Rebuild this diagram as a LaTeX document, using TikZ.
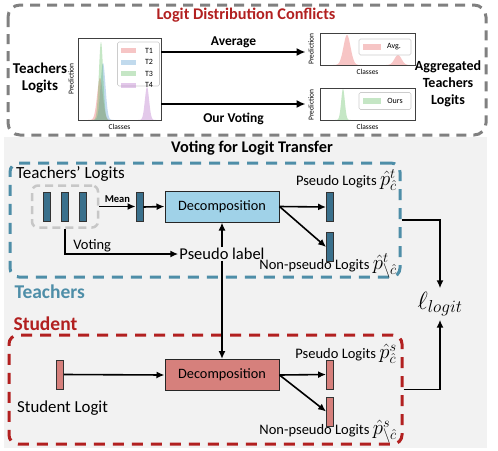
\documentclass[tikz,border=0pt]{standalone}
\usepackage{fontspec}
\setmainfont{Carlito}
\usetikzlibrary{arrows.meta,positioning}

\definecolor{dashgray}{RGB}{128,128,128}
\definecolor{darkred}{RGB}{178,32,32}
\definecolor{tblue}{RGB}{78,142,168}
\definecolor{tbar}{RGB}{58,112,140}
\definecolor{tdecfill}{RGB}{160,210,232}
\definecolor{sfill}{RGB}{214,128,124}
\definecolor{bggray}{RGB}{242,242,242}
\definecolor{cone}{RGB}{232,90,90}
\definecolor{ctwo}{RGB}{80,150,205}
\definecolor{cthree}{RGB}{90,185,90}
\definecolor{cfour}{RGB}{175,100,195}

\begin{document}
\begin{tikzpicture}[x=1pt, y=-1pt,
    arr/.style = {line width=1.6pt, -{Latex[length=8pt,width=7pt]}},
    bigarr/.style = {line width=2pt, -{Latex[length=9pt,width=8pt]}},
    plotbox/.style = {draw=black!75, line width=0.8pt, inner sep=0pt},
    legbox/.style = {draw=black!20, line width=0.6pt, fill=white, rounded corners=1.5pt, inner sep=0pt},
    axlbl/.style = {font=\fontsize{7.5}{8}\selectfont, inner sep=0pt},
    leglbl/.style = {font=\fontsize{8}{9}\selectfont, inner sep=0pt},
    lbl/.style = {font=\fontsize{14.5}{16}\selectfont, inner sep=1pt},
    head/.style = {font=\fontsize{13.5}{17}\selectfont\bfseries},
    grayd/.style = {draw=dashgray, line width=3pt, dash pattern=on 10pt off 7pt, rounded corners=12pt},
    tdash/.style = {draw=tblue, line width=3pt, dash pattern=on 11pt off 8pt, rounded corners=9pt, inner sep=0pt},
    sdash/.style = {draw=darkred, line width=3pt, dash pattern=on 11pt off 8pt, rounded corners=9pt, inner sep=0pt},
    grpbox/.style = {draw=black!22, line width=2.5pt, dash pattern=on 8pt off 5pt, rounded corners=6pt, inner sep=0pt},
    tbarnode/.style = {draw=black!80, fill=tbar, line width=0.8pt, minimum width=7pt, minimum height=29pt, inner sep=0pt},
    sbarnode/.style = {draw=black!80, fill=sfill, line width=0.8pt, minimum width=7pt, minimum height=29pt, inner sep=0pt},
    decomp/.style = {draw=black!85, line width=1pt, minimum width=114pt, minimum height=31pt, font=\fontsize{14.3}{16}\selectfont},
  ]
\useasboundingbox (0,0) rectangle (498,450);

% upper panel
\draw[grayd] (8,5) rectangle (486,135);
\node[head, text=darkred, font=\fontsize{16.3}{18}\selectfont\bfseries] at (246,15) {Logit Distribution Conflicts};
\node[head, align=center, font=\fontsize{15}{17}\selectfont\bfseries] at (40,78) {Teachers\\Logits};
\node[head, align=center, font=\fontsize{14}{17}\selectfont\bfseries] at (448,84) {Aggregated\\Teachers\\Logits};

\node[plotbox, minimum width=83pt, minimum height=82pt] (tplot) at (119.5,79) {};
\node[plotbox, minimum width=95pt, minimum height=32pt] (avgplot) at (367.5,49) {};
\node[plotbox, minimum width=95pt, minimum height=32pt] (ourplot) at (367.5,104) {};

\fill[cone, fill opacity=0.35] plot[domain=88:112, samples=60, smooth] (\x, {120-42*exp(-((\x-100)/4)^2)}) -- cycle;
\fill[ctwo, fill opacity=0.35] plot[domain=92:114, samples=60, smooth] (\x, {120-57*exp(-((\x-103)/3.5)^2)}) -- cycle;
\fill[cthree, fill opacity=0.35] plot[domain=91:111, samples=60, smooth] (\x, {120-78*exp(-((\x-101)/3)^2)}) -- cycle;
\fill[cfour, fill opacity=0.35] plot[domain=138:156, samples=60, smooth] (\x, {120-33*exp(-((\x-147)/3)^2)}) -- cycle;
\node[legbox, minimum width=42pt, minimum height=44pt] (tleg) at (138.5,64) {};
\foreach \c/\t [count=\i] in {cone/T1, ctwo/T2, cthree/T3, cfour/T4} {
  \fill[\c, fill opacity=0.35] (121,{36.5+11.5*\i}) rectangle (136,{41.5+11.5*\i});
  \node[leglbl] at (149,{39+11.5*\i}) {\t};
}
\node[axlbl, rotate=90] at (71,79) {Prediction};
\node[axlbl] at (119.5,126.5) {Classes};

\fill[cone, fill opacity=0.35] plot[domain=333:361, samples=60, smooth] (\x, {65-30*exp(-((\x-347)/5)^2)}) -- cycle;
\fill[cone, fill opacity=0.35] plot[domain=386:410, samples=60, smooth] (\x, {65-10*exp(-((\x-398)/5)^2)}) -- cycle;
\node[legbox, minimum width=52pt, minimum height=16pt] (avgleg) at (385,47) {};
\fill[cone, fill opacity=0.35] (363,44) rectangle (381,50);
\node[leglbl] at (394,47) {Avg.};
\node[axlbl, rotate=90] at (311,49) {Prediction};
\node[axlbl] at (367.5,72) {Classes};

\fill[cthree, fill opacity=0.35] plot[domain=335:351, samples=60, smooth] (\x, {120-31*exp(-((\x-343)/2.6)^2)}) -- cycle;
\node[legbox, minimum width=52pt, minimum height=17pt] (ourleg) at (385,101) {};
\fill[cthree, fill opacity=0.35] (363,98) rectangle (381,104);
\node[leglbl] at (395,101) {Ours};
\node[axlbl, rotate=90] at (311,105) {Prediction};
\node[axlbl] at (367.5,127) {Classes};

\draw[bigarr] ([yshift=27pt]tplot.east) -- ([xshift=-14pt,yshift=-3pt]avgplot.west) node[midway, above, head] {Average};
\draw[bigarr] ([yshift=-25pt]tplot.east) -- ([xshift=-14pt]ourplot.west) node[midway, below=8pt, head, inner sep=0pt] {Our Voting};

% lower panel
\fill[bggray] (4,137) rectangle (487,448);
\node[head, font=\fontsize{16.3}{18}\selectfont\bfseries] at (252,148) {Voting for Logit Transfer};
\node[tdash, minimum width=390pt, minimum height=114pt] (teach) at (205,220) {};
\node[sdash, minimum width=393pt, minimum height=109pt] (stud) at (205.5,389.5) {};
\node[font=\fontsize{19.5}{21}\selectfont\bfseries, text=tblue, anchor=west] at (11,292) {Teachers};
\node[font=\fontsize{19.5}{21}\selectfont\bfseries, text=darkred, anchor=west] at (10,324) {Student};

\node[lbl, font=\fontsize{17}{19}\selectfont, anchor=west] at (15,174) {Teachers' Logits};
\node[grpbox, minimum width=66pt, minimum height=42pt] (grp) at (65,206.5) {};
\node[tbarnode] (tb1) at (46.5,207) {};
\node[tbarnode] (tb2) at (65,207) {};
\node[tbarnode] (tb3) at (83,207) {};
\node[tbarnode] (tmean) at (139.5,207) {};
\draw[arr] (grp.east) -- (grp.east -| tmean.west) node[midway, above, font=\fontsize{10.5}{11}\selectfont\bfseries] {Mean};
\node[decomp, fill=tdecfill] (tdec) at (222,206.5) {Decomposition};
\draw[arr] (tmean.east) -- (tdec.west);
\node[tbarnode] (tps) at (330,207) {};
\node[tbarnode] (tnp) at (330,247) {};
\draw[arr] (tdec.east) -- (tps.west);
\draw[arr] (tdec.east) -- (tnp.west);
\node[lbl, anchor=east] at (398,180) {Pseudo Logits {\fontsize{20}{20}\selectfont$\hat{p}^{t}_{\hat{c}}$}};
\node[lbl, anchor=east] at (398,266) {Non-pseudo Logits {\fontsize{20}{20}\selectfont$\hat{p}^{t}_{\setminus\hat{c}}$}};

\node[lbl, font=\fontsize{16.5}{18}\selectfont] (plab) at (222,254) {Pseudo label};
\draw[arr] (grp.south) |- (plab.west) node[pos=0.62, above, lbl] {Voting};
\draw[arr] (tdec.south |- plab.north) -- (tdec.south);

\node[sbarnode] (sbar) at (60,374.5) {};
\node[decomp, fill=sfill] (sdec) at (222,375) {Decomposition};
\draw[arr] (tdec.south |- plab.south) -- (sdec.north);
\draw[arr] (sbar.east) -- (sdec.west);
\node[sbarnode] (sps) at (330,374.5) {};
\node[sbarnode] (snp) at (330,411.5) {};
\draw[arr] (sdec.east) -- (sps.west);
\draw[arr] (sdec.east) -- (snp.west);
\node[lbl, font=\fontsize{16.8}{19}\selectfont, anchor=west] at (16,408) {Student Logit};
\node[lbl, anchor=east] at (398,354) {Pseudo Logits {\fontsize{20}{20}\selectfont$\hat{p}^{s}_{\hat{c}}$}};
\node[lbl, anchor=east] at (398,432) {Non-pseudo Logits {\fontsize{20}{20}\selectfont$\hat{p}^{s}_{\setminus\hat{c}}$}};

\node[font=\fontsize{27}{30}\selectfont] (loss) at (440,304) {$\ell_{logit}$};
\draw[arr] (teach.east) -| (loss.north);
\draw[arr] (stud.east) -| (loss.south);
\end{tikzpicture}
\end{document}
